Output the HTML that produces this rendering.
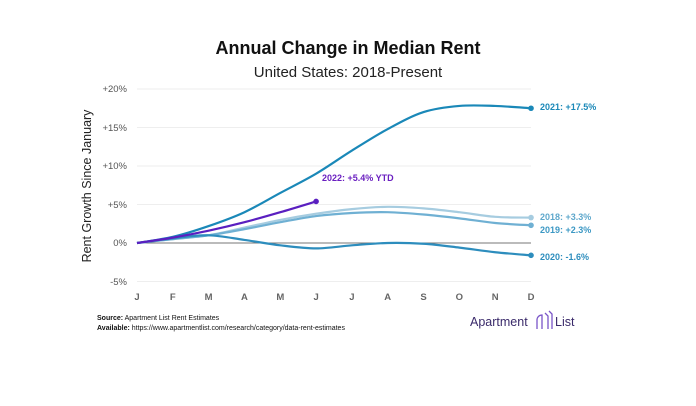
<!DOCTYPE html><html><head><style>body{margin:0;background:#fff;width:696px;height:401px;overflow:hidden;font-family:"Liberation Sans",sans-serif}</style></head><body>
<svg id="s" width="696" height="401" xmlns="http://www.w3.org/2000/svg" font-family="Liberation Sans, sans-serif">
<text x="348" y="54" text-anchor="middle" font-size="18" font-weight="bold" fill="#111">Annual Change in Median Rent</text>
<text x="348" y="77" text-anchor="middle" font-size="15" fill="#222">United States: 2018-Present</text>
<g stroke="#eee" stroke-width="1">
<line x1="137" x2="531" y1="89" y2="89"/><line x1="137" x2="531" y1="127.5" y2="127.5"/><line x1="137" x2="531" y1="166" y2="166"/><line x1="137" x2="531" y1="204.5" y2="204.5"/><line x1="137" x2="531" y1="281.5" y2="281.5"/></g>
<line x1="137" x2="531" y1="243" y2="243" stroke="#777" stroke-width="1"/>
<g font-size="9.5" fill="#555" text-anchor="end">
<text x="127" y="92">+20%</text><text x="127" y="131">+15%</text><text x="127" y="169">+10%</text><text x="127" y="208">+5%</text><text x="127" y="246">0%</text><text x="127" y="285">-5%</text></g>
<text transform="translate(91,186) rotate(-90)" text-anchor="middle" font-size="12.5" fill="#222">Rent Growth Since January</text>
<g id="m" font-size="9.5" font-weight="bold" fill="#666" text-anchor="middle"></g>
<g id="lines" fill="none" stroke-width="2.2"></g>
<g font-size="9" font-weight="bold">
<text x="540" y="110" fill="#1a88b8">2021: +17.5%</text>
<text x="322" y="181" fill="#6a1fc0">2022: +5.4% YTD</text>
<text x="540" y="220" fill="#5fa8cc">2018: +3.3%</text>
<text x="540" y="233" fill="#3c98c4">2019: +2.3%</text>
<text x="540" y="260" fill="#2d8dbd">2020: -1.6%</text></g>
<text x="97" y="320" font-size="7" fill="#111"><tspan font-weight="bold">Source:</tspan> Apartment List Rent Estimates</text>
<text x="97" y="330" font-size="7" fill="#111"><tspan font-weight="bold">Available:</tspan> https://www.apartmentlist.com/research/category/data-rent-estimates</text>
<text x="470" y="326" font-size="12.5" fill="#3a2a6a">Apartment</text>
<g fill="none" stroke="#7a55c8" stroke-width="1.3"><path d="M537 329 v-9 a5 5 0 0 1 5 -5 v14"/><path d="M545 313 l3 3 v13"/><path d="M549 311 l3 3 v15"/></g>
<text x="555" y="326" font-size="12.5" fill="#3a2a6a">List</text>
</svg>
<script>
var X=i=>137+i*35.82,Y=v=>243-v*7.7;
var ms="JFMAMJJASOND".split("");var g=document.getElementById("m");
ms.forEach((c,i)=>{var t=document.createElementNS("http://www.w3.org/2000/svg","text");t.setAttribute("x",X(i));t.setAttribute("y",300);t.textContent=c;g.appendChild(t)});
var S=[
["#a6cce0",[0,.5,1,2,3,3.8,4.4,4.7,4.5,4,3.4,3.3]],
["#6fb0d3",[0,.5,1,1.8,2.7,3.5,3.9,4.0,3.7,3.2,2.6,2.3]],
["#2d8dbd",[0,.6,1,.4,-.3,-.7,-.3,0,-.1,-.6,-1.2,-1.6]],
["#1a88b8",[0,.8,2.2,4,6.5,9,12,14.8,17,17.8,17.8,17.5]],
["#5a1fc0",[0,.7,1.6,2.7,4,5.4]]];
var L=document.getElementById("lines");
S.forEach(s=>{var p=s[1].map((v,i)=>[X(i),Y(v)]);var d="M"+p[0];
for(var i=0;i<p.length-1;i++){var a=p[i-1]||p[i],b=p[i],c=p[i+1],e=p[i+2]||c;
d+=" C"+(b[0]+(c[0]-a[0])/6)+","+(b[1]+(c[1]-a[1])/6)+" "+(c[0]-(e[0]-b[0])/6)+","+(c[1]-(e[1]-b[1])/6)+" "+c;}
var q=document.createElementNS("http://www.w3.org/2000/svg","path");q.setAttribute("d",d);q.setAttribute("stroke",s[0]);L.appendChild(q);
var l=p[p.length-1];var o=document.createElementNS("http://www.w3.org/2000/svg","circle");o.setAttribute("cx",l[0]);o.setAttribute("cy",l[1]);o.setAttribute("r",2.8);o.setAttribute("fill",s[0]);L.appendChild(o);});
</script>
</body></html>
